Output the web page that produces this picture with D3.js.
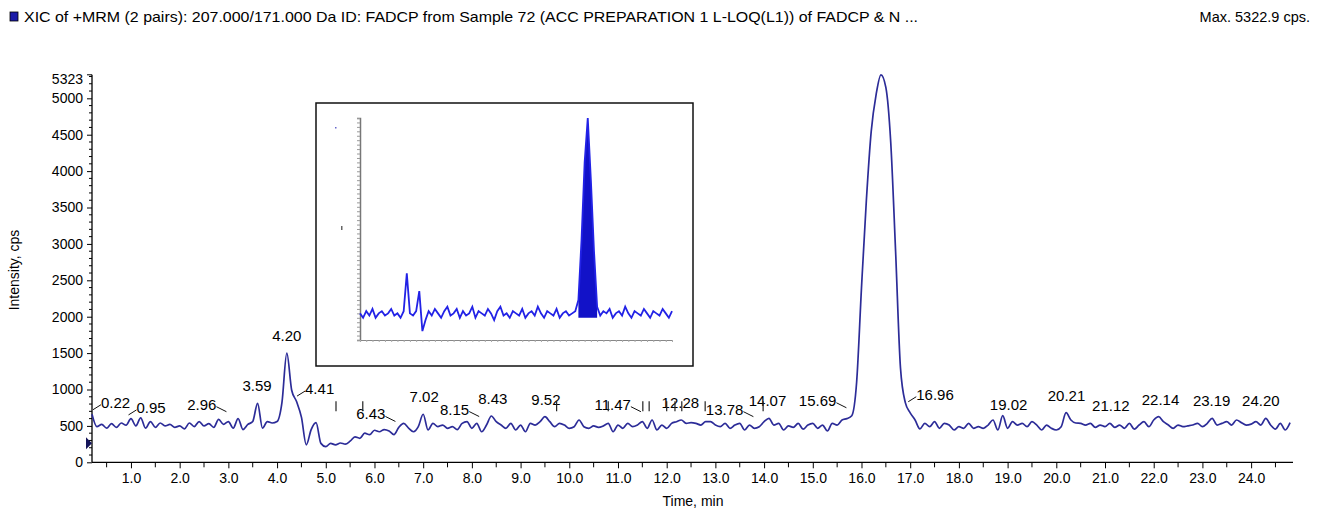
<!DOCTYPE html>
<html>
<head>
<meta charset="utf-8">
<script src="https://cdn.jsdelivr.net/npm/d3@7"></script>
<style>
  body { margin: 0; background: #fff; }
  text { font-family: "Liberation Sans", Arial, sans-serif; fill: #000; }
</style>
</head>
<body>
<script>
// Chart size
let chartWidth = 1322;
let chartHeight = 509;

// XIC trace, sampled every 0.1 min from 0.2 min
let startTime = 0.2;
let timeStep = 0.1;
let intensity = [
  660, 490, 520, 470, 530, 480, 540, 510,
  600, 500, 610, 470, 560, 480, 540, 500, 520, 480,
  500, 460, 540, 490, 560, 500, 530, 480, 590, 520,
  560, 470, 600, 450, 520, 560, 810, 470, 560, 540,
  560, 820, 1500, 990, 835, 620, 240, 450, 545, 260,
  215, 260, 240, 265, 250, 290, 350, 330, 400, 380,
  440, 420, 450, 430, 380, 480, 535, 470, 420, 490,
  660, 444, 535, 490, 512, 467, 489, 450, 535, 558,
  467, 535, 420, 512, 636, 558, 512, 467, 535, 444,
  512, 420, 535, 512, 558, 627, 558, 489, 535, 512,
  467, 489, 581, 489, 467, 500, 480, 500, 535, 420,
  512, 467, 535, 489, 512, 558, 467, 581, 444, 512,
  467, 535, 558, 581, 535, 545, 535, 512, 558, 558,
  512, 489, 535, 467, 512, 535, 444, 512, 467, 489,
  558, 604, 512, 535, 444, 500, 480, 535, 455, 512,
  535, 467, 512, 430, 535, 512, 581, 600, 640, 1100,
  2400, 3600, 4550, 5050, 5322.9, 5150, 4400, 2900, 1300, 820,
  680, 581, 460, 535, 489, 558, 467, 535, 512, 444,
  489, 467, 535, 467, 489, 467, 512, 581, 444, 640,
  467, 558, 512, 535, 489, 558, 512, 444, 512, 467,
  444, 489, 682, 581, 540, 535, 512, 535, 480, 512,
  489, 535, 480, 512, 467, 535, 455, 512, 558, 489,
  581, 627, 558, 512, 467, 512, 489, 500, 512, 535,
  489, 535, 604, 512, 535, 558, 512, 581, 545, 512,
  525, 558, 512, 604, 512, 455, 535, 444, 545
];

// Labelled peaks (retention time) and where the label sits: c = above, l = left, r = right
let peakTimes = [0.22, 0.95, 2.96, 3.59, 4.20, 4.41, 6.43, 7.02, 8.15, 8.43, 9.52, 11.47,
                 12.28, 13.78, 14.07, 15.69, 16.96, 19.02, 20.21, 21.12, 22.14, 23.19, 24.20];
let peakSides = ['r', 'r', 'l', 'c', 'c', 'r', 'l', 'c', 'l', 'c', 'c', 'l',
                 'c', 'l', 'c', 'l', 'r', 'c', 'c', 'c', 'c', 'c', 'c'];

// small peak start/end markers
let markerTimes = [5.21, 5.76, 9.74, 10.80, 11.51, 11.64, 12.0, 12.17, 12.31, 12.79, 13.98];

// axis ticks
let yMax = 5323;
let yTickValues = [0, 500, 1000, 1500, 2000, 2500, 3000, 3500, 4000, 4500, 5000];
let xTickValues = [1, 2, 3, 4, 5, 6, 7, 8, 9, 10, 11, 12, 13, 14, 15, 16, 17, 18, 19, 20, 21, 22, 23, 24];

// Inset chromatogram (relative intensity, %), sampled every 0.25 min
let insetStep = 0.25;
let insetIntensity = [
  12, 10, 13, 11, 14, 10, 12, 13, 11, 12,
  14, 11, 12, 10, 13, 30, 12, 11, 13, 22,
  4, 9, 13, 11, 14, 12, 10, 13, 15, 11,
  12, 14, 10, 13, 11, 12, 15, 10, 13, 12,
  11, 14, 12, 9, 13, 15, 11, 12, 10, 13,
  12, 11, 14, 10, 12, 13, 11, 15, 12, 10,
  13, 12, 11, 14, 10, 12, 13, 11, 12, 13,
  18, 45, 80, 100, 72, 40, 15, 11, 13, 12,
  14, 10, 12, 13, 11, 15, 12, 10, 13, 12,
  11, 14, 12, 10, 13, 12, 11, 14, 12, 10, 13
];
let insetPeakRange = [17.3, 19.1];

let traceData = intensity.map((v, i) => ({ t: startTime + i * timeStep, v: v }));
let insetData = insetIntensity.map((v, i) => ({ t: i * insetStep, v: v }));

let svg = d3.select('body').append('svg')
    .attr('width', chartWidth)
    .attr('height', chartHeight);

// Scales
let x = d3.scaleLinear().domain([0.2, 24.86]).range([92, 1293]);
let y = d3.scaleLinear().domain([0, yMax]).range([462.3, 74.8]);

// read the trace at a time (linear between samples)
function traceAt(t) {
    let pos = (t - startTime) / timeStep;
    let i = Math.max(0, Math.min(intensity.length - 2, Math.floor(pos)));
    let f = pos - i;
    return intensity[i] * (1 - f) + intensity[i + 1] * f;
}
function localMax(t, w) {
    return d3.max(traceData.filter(d => Math.abs(d.t - t) <= w), d => d.v) || traceAt(t);
}

// Title
svg.append('rect')
    .attr('x', 10).attr('y', 12).attr('width', 8).attr('height', 9)
    .attr('fill', '#1a1aa8').attr('stroke', '#000').attr('stroke-width', 0.8);
svg.append('text')
    .attr('x', 24).attr('y', 22)
    .attr('font-size', 14.5)
    .attr('textLength', 894).attr('lengthAdjust', 'spacingAndGlyphs')
    .text('XIC of +MRM (2 pairs): 207.000/171.000 Da ID: FADCP from Sample 72 (ACC PREPARATION 1 L-LOQ(L1)) of FADCP & N ...');
svg.append('text')
    .attr('x', 1310).attr('y', 22)
    .attr('font-size', 14.5)
    .attr('text-anchor', 'end')
    .text('Max. 5322.9 cps.');

// Y axis
let yAxis = svg.append('g')
    .attr('transform', `translate(${x(0.2)},0)`)
    .call(d3.axisLeft(y).tickValues(yTickValues).tickSize(5).tickPadding(4).tickFormat(d3.format('d')));
yAxis.selectAll('.tick line').attr('stroke', '#000');
// minor ticks every 100
yAxis.selectAll('.minor')
    .data(d3.range(100, yMax, 100).filter(d => d % 500 !== 0))
    .enter().append('line')
    .attr('class', 'minor')
    .attr('x1', -3).attr('x2', 0)
    .attr('y1', d => y(d)).attr('y2', d => y(d))
    .attr('stroke', '#000');
yAxis.append('line')
    .attr('x1', -5).attr('x2', 0)
    .attr('y1', y(yMax)).attr('y2', y(yMax))
    .attr('stroke', '#000');
yAxis.append('text')
    .attr('x', -9).attr('y', y(yMax) + 9)
    .attr('text-anchor', 'end')
    .attr('font-size', 14)
    .text(yMax);
yAxis.select('.domain').attr('d', `M0,${y(yMax)}V${y(0)}`).attr('stroke', '#000').attr('stroke-width', 1.3);
yAxis.selectAll('.tick text').attr('font-size', 14).attr('font-family', null).style('fill', '#000');

// small marker on the y axis
svg.append('path')
    .attr('d', `M${x(0.2) - 6},${y(260) - 6}L${x(0.2)},${y(260)}L${x(0.2) - 6},${y(260) + 6}Z`)
    .attr('fill', '#14145a');

// X axis
let xAxis = svg.append('g')
    .attr('transform', `translate(0,${y(0)})`)
    .call(d3.axisBottom(x).tickValues(xTickValues).tickSize(6).tickPadding(5).tickFormat(d3.format('.1f')));
xAxis.selectAll('.tick line').attr('stroke', '#000');
xAxis.select('.domain').attr('d', `M${x(0.2)},0H${x(24.86)}`).attr('stroke', '#000').attr('stroke-width', 1.3);
xAxis.selectAll('.tick text').attr('font-size', 14).attr('font-family', null).style('fill', '#000');
xAxis.selectAll('.minor')
    .data(d3.range(0.5, 24.8, 1))
    .enter().append('line')
    .attr('x1', d => x(d)).attr('x2', d => x(d))
    .attr('y1', 0).attr('y2', 5)
    .attr('stroke', '#000');

// Axis titles
svg.append('text')
    .attr('transform', 'translate(19,270) rotate(-90)')
    .attr('text-anchor', 'middle')
    .attr('font-size', 14)
    .text('Intensity, cps');
svg.append('text')
    .attr('x', 693).attr('y', 506)
    .attr('text-anchor', 'middle')
    .attr('font-size', 14)
    .text('Time, min');

// Inset
let inset = svg.append('g');
inset.append('rect')
    .attr('x', 316).attr('y', 103).attr('width', 377).attr('height', 263)
    .attr('fill', '#fff').attr('stroke', '#111').attr('stroke-width', 1.5);
let ix = d3.scaleLinear().domain([0, 25]).range([360, 672]);
let iy = d3.scaleLinear().domain([0, 100]).range([340, 118]);
let iyAxis = inset.append('g')
    .attr('transform', 'translate(360,0)')
    .call(d3.axisLeft(iy).tickValues(d3.range(0, 101, 2)).tickSize(3).tickFormat(''));
iyAxis.selectAll('line').attr('stroke', '#999');
iyAxis.select('.domain').attr('stroke', '#777').attr('stroke-width', 1.5);
let ixAxis = inset.append('g')
    .attr('transform', 'translate(0,340)')
    .call(d3.axisBottom(ix).tickValues(d3.range(0, 25.1, 0.5)).tickSize(2).tickFormat(''));
ixAxis.selectAll('line').attr('stroke', '#aaa');
ixAxis.select('.domain').attr('stroke', '#888');
inset.append('path')
    .datum(insetData.filter(d => d.t >= insetPeakRange[0] && d.t <= insetPeakRange[1]))
    .attr('d', d3.area().x(d => ix(d.t)).y0(iy(10)).y1(d => iy(d.v)))
    .attr('fill', '#1212c8');
inset.append('path')
    .datum(insetData)
    .attr('d', d3.line().x(d => ix(d.t)).y(d => iy(d.v)))
    .attr('fill', 'none')
    .attr('stroke', '#2222e6')
    .attr('stroke-width', 1.8);
inset.append('rect').attr('x', 335).attr('y', 127).attr('width', 1.5).attr('height', 1.5).attr('fill', '#66c');
inset.append('rect').attr('x', 341).attr('y', 226).attr('width', 1.5).attr('height', 4).attr('fill', '#666');

// Trace
svg.append('path')
    .datum(traceData)
    .attr('d', d3.line().curve(d3.curveMonotoneX).x(d => x(d.t)).y(d => y(d.v)))
    .attr('fill', 'none')
    .attr('stroke', '#2c2c98')
    .attr('stroke-width', 1.7)
    .attr('stroke-linejoin', 'round');

// Peak labels
let labels = svg.append('g').attr('font-size', 15);
peakTimes.forEach(function (t, i) {
    let side = peakSides[i];
    let px = x(t);
    let text = t.toFixed(2);
    if (side === 'c') {
        let py = y(localMax(t, 0.12));
        labels.append('text')
            .attr('x', px).attr('y', py - 12)
            .attr('text-anchor', 'middle')
            .text(text);
    } else if (side === 'r') {
        let py = y(traceAt(t));
        labels.append('line')
            .attr('x1', px).attr('y1', py - 7).attr('x2', px + 8).attr('y2', py - 12)
            .attr('stroke', '#111');
        labels.append('text')
            .attr('x', px + 8).attr('y', py - 9)
            .text(text);
    } else {
        let py = y(traceAt(t));
        labels.append('line')
            .attr('x1', px).attr('y1', py - 11).attr('x2', px - 10).attr('y2', py - 16)
            .attr('stroke', '#111');
        labels.append('text')
            .attr('x', px - 10).attr('y', py - 13)
            .attr('text-anchor', 'end')
            .text(text);
    }
});

// Markers
svg.append('g').selectAll('line')
    .data(markerTimes)
    .enter().append('line')
    .attr('x1', d => x(d)).attr('x2', d => x(d))
    .attr('y1', d => Math.min(y(traceAt(d)) - 6, y(700)) - 10)
    .attr('y2', d => Math.min(y(traceAt(d)) - 6, y(700)))
    .attr('stroke', '#222')
    .attr('stroke-width', 1.2);
</script>
</body>
</html>
